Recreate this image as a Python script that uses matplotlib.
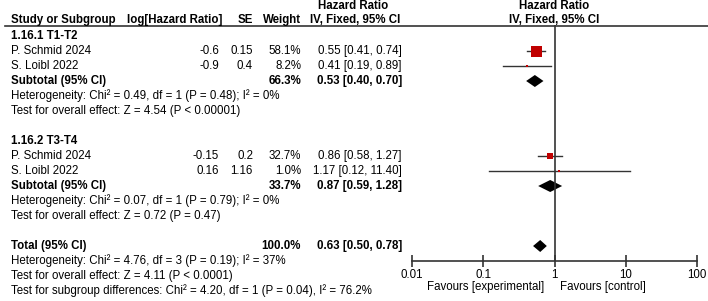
import matplotlib
matplotlib.use("Agg")
import matplotlib.pyplot as plt

plt.rcParams['font.family'] = ['Liberation Sans', 'DejaVu Sans']
FS = 8.3

# ---------------------------------------------------------------- data
groups = ["1.16.1 T1-T2", "1.16.2 T3-T4"]
study_group = [0, 0, 1, 1]
studies = ["P. Schmid 2024", "S. Loibl 2022", "P. Schmid 2024", "S. Loibl 2022"]
log_hr = ["-0.6", "-0.9", "-0.15", "0.16"]
se = ["0.15", "0.4", "0.2", "1.16"]
weight = [58.1, 8.2, 32.7, 1.0]
hr = [0.55, 0.41, 0.86, 1.17]
hr_lo = [0.41, 0.19, 0.58, 0.12]
hr_hi = [0.74, 0.89, 1.27, 11.40]

sub_weight = [66.3, 33.7]
sub_hr = [0.53, 0.87]
sub_lo = [0.40, 0.59]
sub_hi = [0.70, 1.28]
sub_het = ["Heterogeneity: Chi\u00b2 = 0.49, df = 1 (P = 0.48); I\u00b2 = 0%",
           "Heterogeneity: Chi\u00b2 = 0.07, df = 1 (P = 0.79); I\u00b2 = 0%"]
sub_test = ["Test for overall effect: Z = 4.54 (P < 0.00001)",
            "Test for overall effect: Z = 0.72 (P = 0.47)"]

tot_weight = 100.0
tot_hr, tot_lo, tot_hi = 0.63, 0.50, 0.78
tot_lines = ["Heterogeneity: Chi\u00b2 = 4.76, df = 3 (P = 0.19); I\u00b2 = 37%",
             "Test for overall effect: Z = 4.11 (P < 0.0001)",
             "Test for subgroup differences: Chi\u00b2 = 4.20, df = 1 (P = 0.04), I\u00b2 = 76.2%"]

ticks = [0.01, 0.1, 1, 10, 100]
tick_labels = ["0.01", "0.1", "1", "10", "100"]

# ---------------------------------------------------------------- layout
W, H = 708, 301
fig = plt.figure(figsize=(W / 100, H / 100), dpi=100)
ax = fig.add_axes([0, 0, 1, 1])
ax.set_xlim(0, W)
ax.set_ylim(H, 0)
ax.axis("off")

top, bottom = 25, 261
fx0, fx1 = 412, 697
axf = fig.add_axes([fx0 / W, (H - bottom) / H, (fx1 - fx0) / W, (bottom - top) / H])
axf.set_xscale("log")
axf.set_xlim(0.01, 100)
axf.set_ylim(bottom, top)
axf.patch.set_alpha(0)
for s in ["top", "left", "right"]:
    axf.spines[s].set_visible(False)
axf.spines["bottom"].set_color("#333333")
axf.spines["bottom"].set_linewidth(1.2)
axf.set_yticks([])
axf.set_xticks(ticks)
axf.set_xticklabels(tick_labels)
axf.minorticks_off()
axf.tick_params(axis="x", direction="inout", length=8, width=1.2, color="#333333",
                labelsize=FS, pad=1.5)
axf.axvline(1, color="#333333", lw=1.2)

def row_y(i):
    return 36 + 15 * i

x_name, x_lhr, x_se, x_w, x_ci = 11, 219, 253, 301, 402
bold = dict(fontsize=FS, fontweight="bold", va="center")
norm = dict(fontsize=FS, va="center")

# headers
ax.text(353, 6, "Hazard Ratio", ha="center", **bold)
ax.text(554, 6, "Hazard Ratio", ha="center", **bold)
ax.text(x_name, 20, "Study or Subgroup", ha="left", **bold)
ax.text(222, 20, "log[Hazard Ratio]", ha="right", **bold)
ax.text(x_se, 20, "SE", ha="right", **bold)
ax.text(x_w, 20, "Weight", ha="right", **bold)
ax.text(355, 20, "IV, Fixed, 95% CI", ha="center", **bold)
ax.text(554, 20, "IV, Fixed, 95% CI", ha="center", **bold)
ax.plot([5, W], [25.5, 25.5], color="#333333", lw=1.2)

def diamond(est, lo, hi, y, h=6):
    axf.fill([lo, est, hi, est], [y, y - h, y, y + h], color="black", lw=0)

row = 0
for g, gname in enumerate(groups):
    ax.text(x_name, row_y(row), gname, ha="left", **bold)
    row += 1
    for k in range(len(studies)):
        if study_group[k] != g:
            continue
        y = row_y(row)
        ax.text(x_name, y, studies[k], ha="left", **norm)
        ax.text(x_lhr, y, log_hr[k], ha="right", **norm)
        ax.text(x_se, y, se[k], ha="right", **norm)
        ax.text(x_w, y, f"{weight[k]:.1f}%", ha="right", **norm)
        ax.text(x_ci, y, f"{hr[k]:.2f} [{hr_lo[k]:.2f}, {hr_hi[k]:.2f}]", ha="right", **norm)
        axf.plot([hr_lo[k], hr_hi[k]], [y, y], color="#333333", lw=1.0)
        side = max(2.0, 11 * weight[k] / weight[0]) * 0.72
        axf.plot([hr[k]], [y], marker="s", ms=side, color="#C00000", mew=0)
        row += 1
    y = row_y(row)
    ax.text(x_name, y, "Subtotal (95% CI)", ha="left", **bold)
    ax.text(x_w, y, f"{sub_weight[g]:.1f}%", ha="right", **bold)
    ax.text(x_ci, y, f"{sub_hr[g]:.2f} [{sub_lo[g]:.2f}, {sub_hi[g]:.2f}]", ha="right", **bold)
    diamond(sub_hr[g], sub_lo[g], sub_hi[g], y)
    row += 1
    ax.text(x_name, row_y(row), sub_het[g], ha="left", **norm)
    row += 1
    ax.text(x_name, row_y(row), sub_test[g], ha="left", **norm)
    row += 2

y = row_y(row)
ax.text(x_name, y, "Total (95% CI)", ha="left", **bold)
ax.text(x_w, y, f"{tot_weight:.1f}%", ha="right", **bold)
ax.text(x_ci, y, f"{tot_hr:.2f} [{tot_lo:.2f}, {tot_hi:.2f}]", ha="right", **bold)
diamond(tot_hr, tot_lo, tot_hi, y)
row += 1
for line in tot_lines:
    ax.text(x_name, row_y(row), line, ha="left", **norm)
    row += 1

ax.text(544, 287, "Favours [experimental]", ha="right", **norm)
ax.text(560, 287, "Favours [control]", ha="left", **norm)

fig.savefig("out.png", dpi=100)
